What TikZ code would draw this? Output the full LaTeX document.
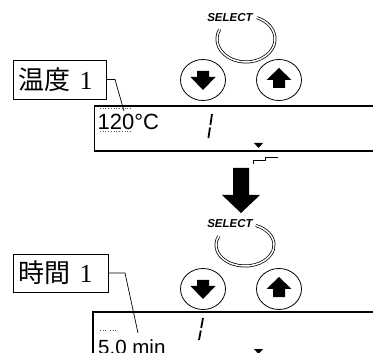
\documentclass[tikz,border=0pt]{standalone}
\usepackage{fontspec}
\setmainfont{Liberation Serif}
\setsansfont{Liberation Sans}
\newfontfamily\cjk{Noto Sans CJK JP}
\usetikzlibrary{shapes.geometric}
\tikzset{
  disp/.style={line width=1.3pt},
  btn/.style={draw, ellipse, minimum width=45pt, minimum height=41pt, inner sep=0pt, line width=0.8pt},
  lbl/.style={draw, line width=0.8pt, inner xsep=5.5pt, inner ysep=0pt, minimum height=39pt, text width=82pt, align=left, anchor=west,
    font=\fontsize{26}{28}\selectfont},
  sel/.style={font=\sffamily\bfseries\itshape\fontsize{11.5}{12}\selectfont, inner sep=0pt},
  ring/.style={double, line width=0.75pt, double distance=1.5pt},
  lead/.style={line width=0.7pt},
  lcd/.style={font=\sffamily\fontsize{22}{24}\selectfont, inner sep=0pt, anchor=base west},
  ghost/.style={line width=1pt, black!65, dash pattern=on 1pt off 1.5pt},
  seg/.style={line width=1.8pt},
}
\begin{document}
\begin{tikzpicture}[x=1pt,y=-1pt]
\useasboundingbox (0,0) rectangle (373,353);
\clip (0,0) rectangle (373,353);

% ================= TOP =================
\node[sel] (sel1) at (230,18) {SELECT};
\draw[ring] (246,39) ++(155:29pt and 23pt) arc[start angle=155,end angle=428,x radius=29pt,y radius=23pt];
\node[btn] (dn1) at (203,80) {};
\node[btn] (up1) at (279,80) {};
\fill (dn1.center) ++(-6,-9) -- ++(12,0) -- ++(0,6) -- ++(6.5,0) -- (203,90) -- ++(-12.5,-13) -- ++(6.5,0) -- cycle;
\fill (up1.center) ++(-6,8) -- ++(12,0) -- ++(0,-8) -- ++(6.5,0) -- (279,68) -- ++(-12.5,12) -- ++(6.5,0) -- cycle;
% display
\draw[disp] (380,106) -- (94.5,106) -- (94.5,151) -- (380,151);
\node[lcd] (t1) at (97.5,129.5) {120°C};
\draw[ghost] (100,109) -- (109,109) (111,109) -- (120,109) (122,109) -- (131,109);
\draw[ghost] (100,132) -- (109,132) (111,132) -- (120,132) (122,132) -- (131,132);
\draw[seg] (212,114) -- (210.4,125) (210,127.5) -- (208.4,138);
\fill (254,143) -- (263,143) -- (258.5,148) -- cycle;
% label
\node[lbl] (lab1) at (13,79.5) {{\cjk 温度} 1};
\coordinate (k1) at (115,79.5);
\coordinate (e1) at (124,111);
\draw[lead] (lab1.east) -- (k1) -- (e1);
% step line
\draw[line width=0.8pt] (253,164) -- (253,160) -- (265,160) -- (265,157) -- (278,157);
% big arrow
\fill (233,168) -- (249,168) -- (249,195) -- (260,195) -- (241,213) -- (222,195) -- (233,195) -- cycle;

% ================= BOTTOM =================
\node[sel] (sel2) at (230,224) {SELECT};
\draw[ring] (245,245) ++(155:29pt and 21pt) arc[start angle=155,end angle=428,x radius=29pt,y radius=21pt];
\node[btn] (dn2) at (203,289) {};
\node[btn] (up2) at (279,289) {};
\fill (dn2.center) ++(-6,-9) -- ++(12,0) -- ++(0,6) -- ++(6.5,0) -- (203,299) -- ++(-12.5,-13) -- ++(6.5,0) -- cycle;
\fill (up2.center) ++(-6,8) -- ++(12,0) -- ++(0,-8) -- ++(6.5,0) -- (279,277) -- ++(-12.5,12) -- ++(6.5,0) -- cycle;
\draw[disp] (380,312) -- (93,312) -- (93,360);
\node[lcd, font=\sffamily\fontsize{20.5}{22}\selectfont] (t2) at (98,355) {5.0 min};
\draw[ghost] (100,330) -- (107,330) (110,330) -- (117,330);
\draw[seg] (203,318) -- (201.2,328) (200.8,330.5) -- (199,340);
\fill (254,349) -- (263,349) -- (258.5,354) -- cycle;
\node[lbl, minimum height=38pt, text width=84pt] (lab2) at (13,273) {{\cjk 時間} 1};
\coordinate (k2) at (125,273);
\coordinate (e2) at (138,333);
\draw[lead] (lab2.east) -- (k2) -- (e2);
\end{tikzpicture}
\end{document}
